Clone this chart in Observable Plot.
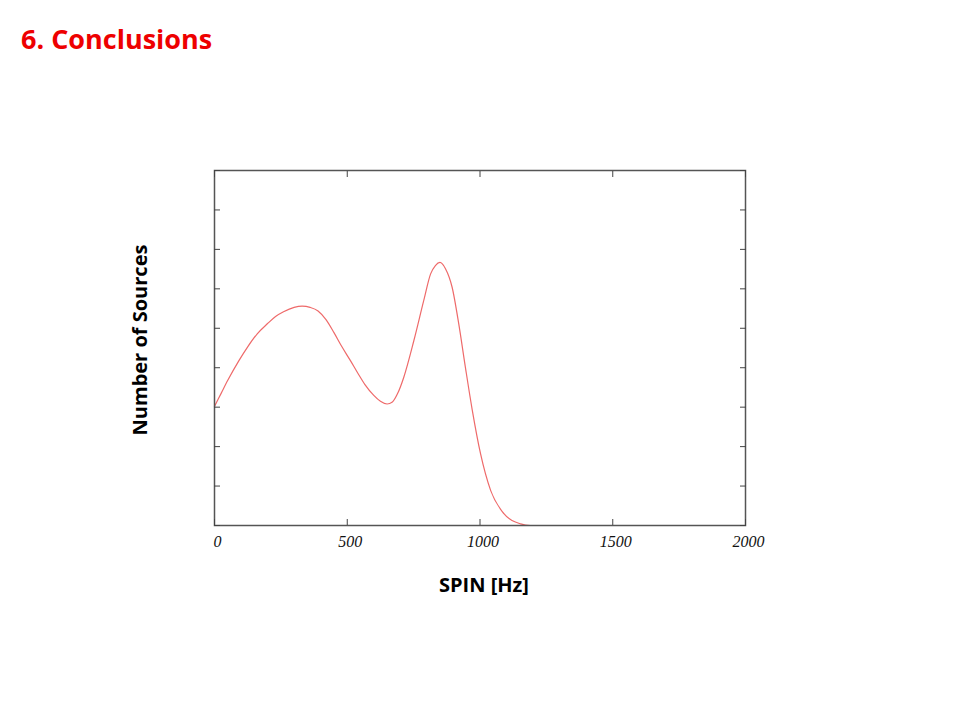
<!DOCTYPE html>
<html>
<head>
<meta charset="utf-8">
<script src="https://cdn.jsdelivr.net/npm/d3@7"></script>
<script src="https://cdn.jsdelivr.net/npm/@observablehq/plot@0.6"></script>
<style>
  html, body { margin: 0; padding: 0; background: #fff; }
  #wrap { position: relative; width: 960px; height: 720px; }
  #title { position: absolute; left: 21px; top: 25px; font-family: "Open Sans", sans-serif; font-weight: 700; font-size: 27px; color: #ee0000; line-height: 1; }
</style>
</head>
<body>
<div id="wrap">
  <div id="title">6. Conclusions</div>
</div>
<script>
const spin = [0, 25, 50, 92, 125, 161, 200, 230, 260, 300, 330, 360, 390, 420, 450, 480, 512, 540, 566, 600, 625, 650, 670, 690, 713, 751, 788, 814, 832, 849, 870, 895, 920, 945, 971, 1002, 1040, 1090, 1153, 1190, 1300, 1500, 2000];
const sources = [3.02, 3.35, 3.68, 4.18, 4.53, 4.86, 5.12, 5.30, 5.42, 5.53, 5.56, 5.53, 5.44, 5.22, 4.89, 4.53, 4.18, 3.86, 3.58, 3.30, 3.15, 3.08, 3.13, 3.35, 3.76, 4.69, 5.70, 6.38, 6.59, 6.67, 6.51, 6.04, 5.11, 4.01, 2.92, 1.82, 0.89, 0.30, 0.04, 0.0, 0.0, 0.0, 0.0];
const xTicks = [0, 500, 1000, 1500, 2000];
const yTicks = [0, 1, 2, 3, 4, 5, 6, 7, 8, 9];
const xLabel = "SPIN [Hz]";
const yLabel = "Number of Sources";

const data = spin.map((s, i) => ({spin: s, n: sources[i]}));

const tickFont = {fontFamily: "Liberation Serif, serif", fontStyle: "italic", fontSize: 16};

const chart = Plot.plot({
  width: 960,
  height: 720,
  marginLeft: 214,
  marginRight: 215,
  marginTop: 170,
  marginBottom: 195,
  style: {background: "transparent", color: "#333"},
  x: {domain: [0, 2000], ticks: xTicks},
  y: {domain: [0, 9], ticks: yTicks},
  marks: [
    Plot.line(data, {x: "spin", y: "n", stroke: "#ee6a6a", strokeWidth: 1.2, curve: "monotone-x"}),
    Plot.frame({stroke: "#555", strokeWidth: 1.5}),
    Plot.axisX(xTicks, {anchor: "bottom", tickSize: -6, text: null, stroke: "#444", label: null}),
    Plot.axisX(xTicks, {anchor: "bottom", tickSize: 0, tickPadding: 10, label: null, tickFormat: d => String(d), dx: 3, fill: "#111", ...tickFont}),
    Plot.axisX(xTicks, {anchor: "top", tickSize: -6, text: null, stroke: "#444", label: null}),
    Plot.axisY(yTicks, {anchor: "left", tickSize: -6, text: null, stroke: "#444", label: null}),
    Plot.axisY(yTicks, {anchor: "right", tickSize: -6, text: null, stroke: "#444", label: null}),
    Plot.text([xLabel], {frameAnchor: "bottom", dx: 4, dy: 66, text: d => d, fontFamily: "Open Sans, sans-serif", fontWeight: "bold", fontSize: 20, fill: "#000"}),
    Plot.text([yLabel], {frameAnchor: "left", dx: -74, dy: -8, rotate: -90, textAnchor: "middle", text: d => d, fontFamily: "Open Sans, sans-serif", fontWeight: "bold", fontSize: 20, fill: "#000"})
  ]
});
document.getElementById("wrap").appendChild(chart);
chart.style.position = "absolute";
chart.style.left = "0";
chart.style.top = "0";
</script>
</body>
</html>
